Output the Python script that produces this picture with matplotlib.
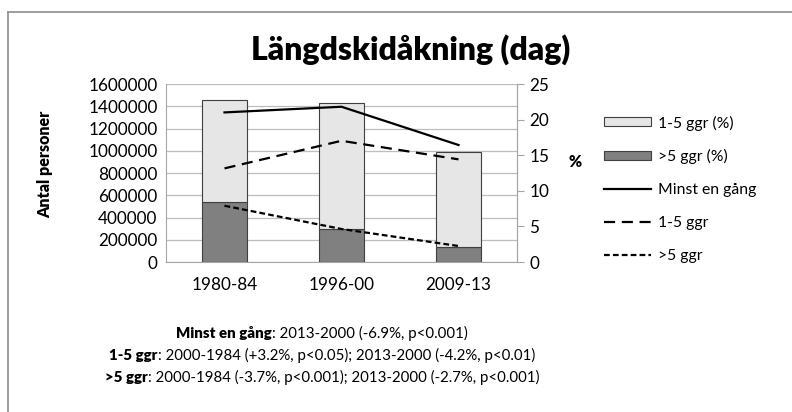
import matplotlib
matplotlib.use('Agg')
import matplotlib.pyplot as plt
from matplotlib.patches import Patch
from matplotlib.lines import Line2D

plt.rcParams['font.family'] = ['Lato', 'DejaVu Sans']

# data
periods = ['1980-84', '1996-00', '2009-13']
bar_over5_pct = [8.5, 4.7, 2.1]        # >5 ggr (%), dark part
bar_1to5_pct = [14.3, 17.7, 13.3]      # 1-5 ggr (%), light part on top
minst_en_gang = [1345000, 1396000, 1052000]
ggr_1to5 = [842000, 1090000, 923000]
ggr_over5 = [506000, 297000, 144000]

left_ticks = list(range(0, 1600001, 200000))
right_ticks = [0, 5, 10, 15, 20, 25]

footer = [
    ('Minst en gång', ': 2013-2000 (-6.9%, p<0.001)'),
    ('1-5 ggr', ': 2000-1984 (+3.2%, p<0.05); 2013-2000 (-4.2%, p<0.01)'),
    ('>5 ggr', ': 2000-1984 (-3.7%, p<0.001); 2013-2000 (-2.7%, p<0.001)'),
]

grey = '#a6a6a6'
fs_tick = 12.3
fs_leg = 11.3
fs_foot = 10.8

fig = plt.figure(figsize=(7.92, 4.12), dpi=100)

# background axis: left scale + gridlines
ax = fig.add_axes([0.2096, 0.364, 0.4432, 0.432])
x = range(len(periods))
ax.set_xlim(-0.5, 2.5)
ax.set_ylim(0, 1600000)
ax.set_yticks(left_ticks)
ax.set_yticklabels([str(v) for v in left_ticks])
ax.set_xticks(list(x))
ax.set_xticklabels(periods)
ax.tick_params(axis='both', length=0, labelsize=fs_tick, pad=6)
ax.tick_params(axis='x', pad=11)
ax.grid(axis='y', color='#bdbdbd', lw=0.9)
ax.set_axisbelow(True)
for s in ['left', 'bottom', 'right']:
    ax.spines[s].set_color(grey)
ax.spines['top'].set_visible(False)
ax.set_ylabel('Antal personer', fontsize=11.5, fontweight='heavy', va='center')
ax.yaxis.set_label_coords((45 - 166) / 351, (262 - 164) / 178)

# bars on the % scale
ax2 = ax.twinx()
ax2.set_ylim(0, 25)
ax2.set_yticks(right_ticks)
ax2.tick_params(axis='y', length=5, color=grey, labelsize=fs_tick, pad=4)
for s in ['left', 'bottom', 'top']:
    ax2.spines[s].set_visible(False)
ax2.spines['right'].set_color(grey)
w = 0.39
ax2.bar(x, bar_over5_pct, w, color='#808080', edgecolor='#404040', lw=0.8)
ax2.bar(x, bar_1to5_pct, w, bottom=bar_over5_pct, color='#e6e6e6', edgecolor='#404040', lw=0.8)

# lines on the persons scale, drawn on top
ax3 = ax.twinx()
ax3.set_ylim(0, 1600000)
ax3.axis('off')
ax3.plot(x, minst_en_gang, color='black', lw=1.6)
ax3.plot(x, ggr_1to5, color='black', lw=1.6, dashes=(5, 3))
ax3.plot(x, ggr_over5, color='black', lw=1.6, dashes=(2.6, 1.4))

fig.text(0.518, 1 - 50 / 412, 'Längdskidåkning (dag)', ha='center', va='center',
         fontsize=23, fontweight='heavy')
fig.text(0.726, 0.607, '%', ha='center', va='center', fontsize=fs_leg, fontweight='heavy')

handles = [
    Patch(facecolor='#e6e6e6', edgecolor='#404040', lw=0.8),
    Patch(facecolor='#808080', edgecolor='#404040', lw=0.8),
    Line2D([], [], color='black', lw=1.6),
    Line2D([], [], color='black', lw=1.6, dashes=(5, 3)),
    Line2D([], [], color='black', lw=1.6, dashes=(2.6, 1.4)),
]
labels = ['1-5 ggr (%)', '>5 ggr (%)', 'Minst en gång', '1-5 ggr', '>5 ggr']
fig.legend(handles, labels, loc='upper left', bbox_to_anchor=(0.755, 0.735),
           frameon=False, fontsize=fs_leg, handlelength=3.0, handleheight=0.5,
           handletextpad=0.45, labelspacing=1.2, borderaxespad=0)

# footer lines with a bold lead-in
fig.canvas.draw()
r = fig.canvas.get_renderer()
cx = 322 / 792
for i, (b, n) in enumerate(footer):
    y = 1 - (333 + 22 * i) / 412
    tb = fig.text(0, y, b, fontsize=fs_foot, fontweight='heavy', va='center')
    tn = fig.text(0, y, n, fontsize=fs_foot, va='center')
    wb = tb.get_window_extent(r).width / fig.bbox.width
    wn = tn.get_window_extent(r).width / fig.bbox.width
    x0 = cx - (wb + wn) / 2
    tb.set_x(x0)
    tn.set_x(x0 + wb)

# outer frame, only top and left edge visible
fig.add_artist(Line2D([8 / 792, 1], [1 - 12 / 412] * 2, color='#8c8c8c', lw=1.2))
fig.add_artist(Line2D([8 / 792] * 2, [0, 1 - 12 / 412], color='#8c8c8c', lw=1.2))

fig.savefig('out.png', dpi=100)
